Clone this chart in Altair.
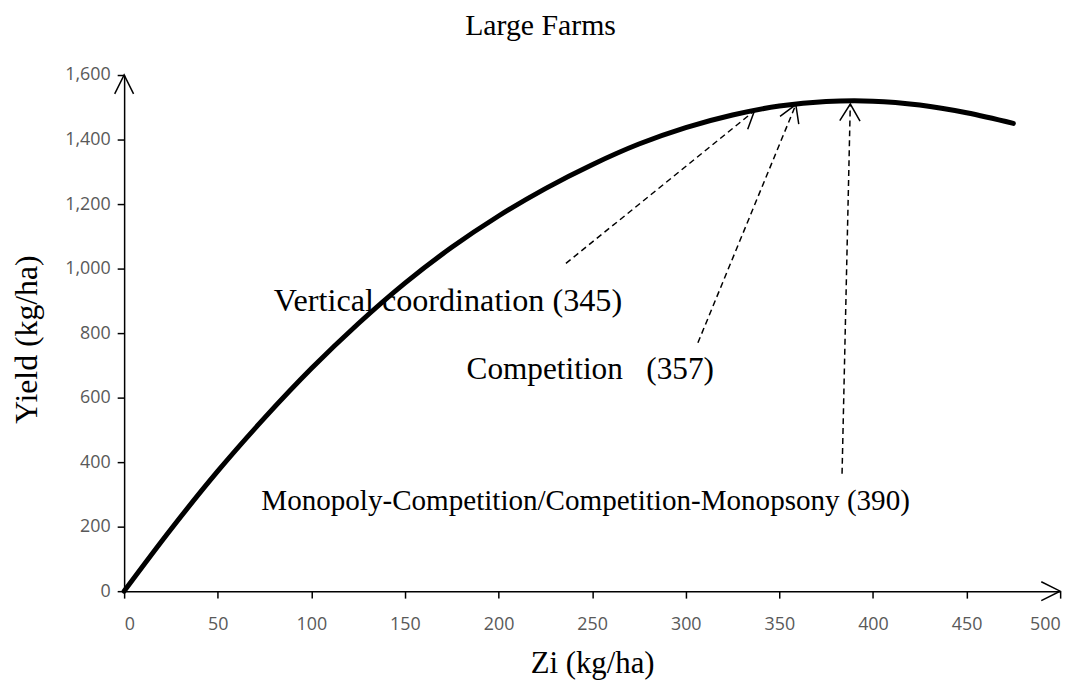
import math
import altair as alt
import pandas as pd

# ---- data ----
zi = [0, 25, 50, 75, 100, 125, 150, 175, 200, 225, 250, 275, 300, 325, 350, 375, 390, 400, 425, 450, 475]
yield_kg = [0, 192, 372, 537, 690, 829, 955, 1066, 1163, 1248, 1322, 1386, 1437, 1476, 1504, 1518, 1520, 1519, 1507, 1483, 1450]

note_text = ["Vertical coordination (345)",
             "Competition\u00a0\u00a0\u00a0(357)",
             "Monopoly-Competition/Competition-Monopsony (390)"]
note_x = [173, 249, 246.5]
note_y = [870, 658, 253]
note_size = [32.4, 31.5, 29.3]

arrow_x0 = [236, 306.5, 383.5]
arrow_y0 = [1016, 770, 364]
arrow_x1 = [336.7, 358.8, 387.9]
arrow_y1 = [1489, 1508, 1510]

x_ticks = [0, 50, 100, 150, 200, 250, 300, 350, 400, 450, 500]
y_ticks = [0, 200, 400, 600, 800, 1000, 1200, 1400, 1600]

# ---- layout ----
W, H = 943, 520
XMAX, YMAX = 500, 1600
sx, sy = W / XMAX, H / YMAX

serif = "Liberation Serif"
sans = "Open Sans"

curve_df = pd.DataFrame({"zi": zi, "y": yield_kg})

dash_rows = []
head_rows = []
for i in range(len(arrow_x0)):
    dash_rows.append({"id": i, "ord": 0, "zi": arrow_x0[i], "y": arrow_y0[i]})
    dash_rows.append({"id": i, "ord": 1, "zi": arrow_x1[i], "y": arrow_y1[i]})
    dxp = (arrow_x1[i] - arrow_x0[i]) * sx
    dyp = (arrow_y1[i] - arrow_y0[i]) * sy
    ang = math.degrees(math.atan2(dxp, dyp)) % 360
    head_rows.append({"zi": arrow_x1[i], "y": arrow_y1[i], "angle": ang})
dash_df = pd.DataFrame(dash_rows)
head_df = pd.DataFrame(head_rows)

axis_head_df = pd.DataFrame({"zi": [0, XMAX], "y": [YMAX, 0], "angle": [0, 90]})

notes_df = pd.DataFrame({"text": note_text, "zi": note_x, "y": note_y, "fs": note_size})

xscale = alt.Scale(domain=[0, XMAX], nice=False, zero=True)
yscale = alt.Scale(domain=[0, YMAX], nice=False, zero=True)

xaxis = alt.Axis(values=x_ticks, format="d", title="Zi (kg/ha)", grid=False,
                 labelFont=sans, labelFontSize=18, labelColor="#595959",
                 labelPadding=18, tickSize=7, tickColor="black", tickWidth=1.5,
                 domainColor="black", domainWidth=1.5,
                 titleFont=serif, titleFontSize=31, titleFontWeight="normal",
                 titleColor="black", titleBaseline="alphabetic", titleY=82)
yaxis = alt.Axis(values=y_ticks, format=",.0f", title="Yield (kg/ha)", grid=False,
                 labelFont=sans, labelFontSize=18, labelColor="#595959",
                 labelPadding=7, tickSize=7, tickColor="black", tickWidth=1.5,
                 domainColor="black", domainWidth=1.5,
                 titleFont=serif, titleFontSize=32, titleFontWeight="normal",
                 titleColor="black", titleBaseline="alphabetic", titleX=-88,
                 titleY=266, titleAngle=-90)

base_x = alt.X("zi:Q", scale=xscale, axis=xaxis)
base_y = alt.Y("y:Q", scale=yscale, axis=yaxis)

curve = alt.Chart(curve_df).mark_line(
    color="black", strokeWidth=5, interpolate="monotone", strokeCap="round"
).encode(x=base_x, y=base_y)

dashes = alt.Chart(dash_df).mark_line(
    color="black", strokeWidth=1.5, strokeDash=[6, 4]
).encode(x=alt.X("zi:Q", scale=xscale), y=alt.Y("y:Q", scale=yscale),
         detail="id:N", order="ord:Q")

heads = alt.Chart(head_df).mark_point(
    shape="M -0.6 1 L 0 0 L 0.6 1", filled=False, stroke="black",
    strokeWidth=1.5, size=1156, opacity=1
).encode(x=alt.X("zi:Q", scale=xscale), y=alt.Y("y:Q", scale=yscale),
         angle=alt.Angle("angle:Q", scale=None))

axis_heads = alt.Chart(axis_head_df).mark_point(
    shape="M -0.5 1 L 0 0 L 0.5 1", filled=False, stroke="black",
    strokeWidth=1.5, size=1444, opacity=1, clip=False
).encode(x=alt.X("zi:Q", scale=xscale), y=alt.Y("y:Q", scale=yscale),
         angle=alt.Angle("angle:Q", scale=None))

notes = alt.Chart(notes_df).mark_text(
    font=serif, color="black", align="center", baseline="alphabetic"
).encode(x=alt.X("zi:Q", scale=xscale), y=alt.Y("y:Q", scale=yscale),
         text="text:N", size=alt.Size("fs:Q", scale=None, legend=None))

chart = alt.layer(curve, dashes, heads, axis_heads, notes).properties(
    width=W, height=H,
    title=alt.TitleParams("Large Farms", font=serif, fontSize=30,
                          fontWeight="normal", color="black", anchor="middle",
                          frame="group", dx=-52, offset=1, baseline="alphabetic"),
    autosize=alt.AutoSizeParams(type="none"),
    padding={"left": 117, "top": 65, "right": 20, "bottom": 92},
    background="white",
).configure_view(stroke=None)

chart.save("out.html", embed_options={"renderer": "svg", "actions": False})
